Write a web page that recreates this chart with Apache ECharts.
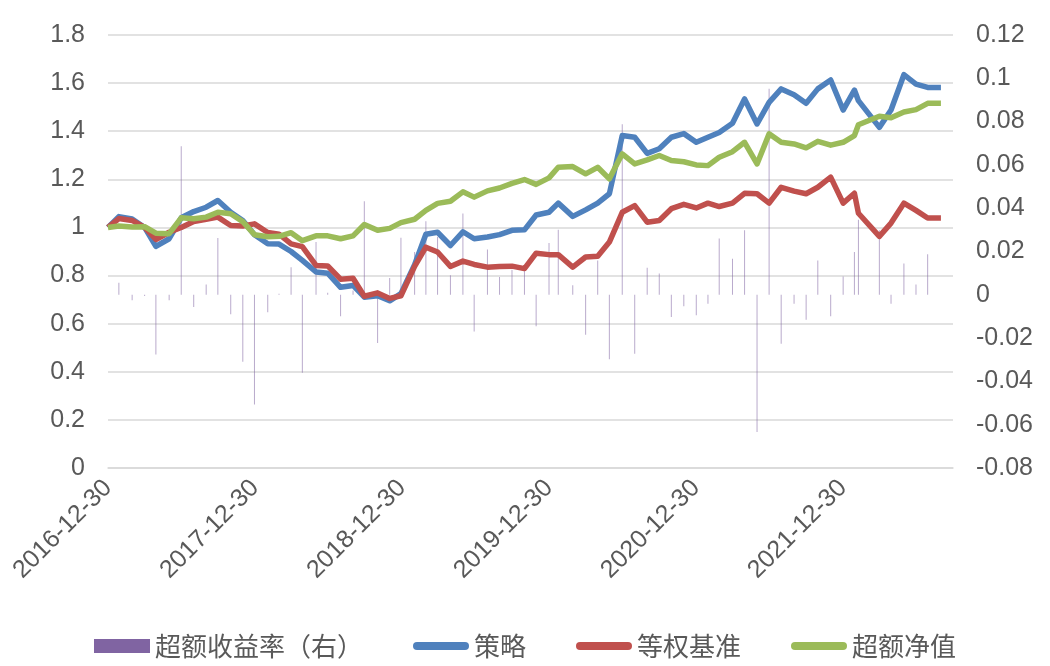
<!DOCTYPE html>
<html>
<head>
<meta charset="utf-8">
<script src="https://cdn.jsdelivr.net/npm/echarts@6/dist/echarts.min.js"></script>
<style>
  html, body { margin: 0; padding: 0; background: #fff; }
  #chart { width: 1050px; height: 666px; }
</style>
</head>
<body>
<div id="chart"></div>
<script>
// rebalance dates (x), one per point
var dates = [
    '2016-12-30', '2017-01-26', '2017-02-28', '2017-03-31', '2017-04-28', '2017-05-31',
    '2017-06-30', '2017-07-31', '2017-08-31', '2017-09-29', '2017-10-31', '2017-11-30',
    '2017-12-29', '2018-01-31', '2018-02-28', '2018-03-30', '2018-04-27', '2018-05-31',
    '2018-06-29', '2018-07-31', '2018-08-31', '2018-09-28', '2018-10-31', '2018-11-30',
    '2018-12-28', '2019-01-31', '2019-02-28', '2019-03-29', '2019-04-30', '2019-05-31',
    '2019-06-28', '2019-07-31', '2019-08-30', '2019-09-30', '2019-10-31', '2019-11-29',
    '2019-12-31', '2020-01-23', '2020-02-28', '2020-03-31', '2020-04-30', '2020-05-29',
    '2020-06-30', '2020-07-31', '2020-08-31', '2020-09-30', '2020-10-30', '2020-11-30',
    '2020-12-31', '2021-01-29', '2021-02-26', '2021-03-31', '2021-04-30', '2021-05-31',
    '2021-06-30', '2021-07-30', '2021-08-31', '2021-09-30', '2021-10-29', '2021-11-30',
    '2021-12-31', '2022-01-28', '2022-02-07', '2022-03-31', '2022-04-29', '2022-05-31',
    '2022-06-30', '2022-07-29', '2022-08-31'
];

// 超额收益率（右）
var excessReturn = [
    0, 0.0056, -0.0025, -0.0005, -0.0276, -0.0025,
    0.0686, -0.0056, 0.0047, 0.0262, -0.009, -0.0309,
    -0.0507, -0.0081, 0.0005, 0.0127, -0.036, 0.0244,
    0.001, -0.0099, 0.002, 0.0432, -0.0223, 0.0078,
    0.0264, 0.0198, 0.034, 0.0267, 0.009, 0.0375,
    -0.0169, 0.0209, 0.0082, 0.0116, 0.0128, -0.0145,
    0.0239, 0.0301, 0.0044, -0.0184, 0.0159, -0.0298,
    0.0788, -0.0272, 0.0125, 0.0098, -0.0102, -0.0053,
    -0.0095, -0.0041, 0.026, 0.0167, 0.0298, -0.0634,
    0.0952, -0.0226, -0.0041, -0.0115, 0.0159, -0.0099,
    0.0085, 0.0198, 0.0347, 0.0298, -0.0041, 0.0144,
    0.0047, 0.0187, 0
];

// 策略
var strategy = [
    1.0, 1.045, 1.035, 1.0, 0.921, 0.953,
    1.04, 1.066, 1.084, 1.112, 1.063, 1.029,
    0.97, 0.932, 0.931, 0.9, 0.863, 0.815,
    0.81, 0.751, 0.759, 0.71, 0.716, 0.695,
    0.725, 0.845, 0.972, 0.98, 0.925, 0.982,
    0.953, 0.96, 0.97, 0.988, 0.99, 1.052,
    1.063, 1.101, 1.046, 1.073, 1.101, 1.14,
    1.382, 1.375, 1.308, 1.327, 1.375, 1.39,
    1.354, 1.375, 1.395, 1.433, 1.534, 1.43,
    1.52, 1.576, 1.552, 1.516, 1.576, 1.613,
    1.488, 1.571, 1.527, 1.416, 1.488, 1.635,
    1.596, 1.582, 1.582
];

// 等权基准
var benchmark = [
    1.0, 1.037, 1.029, 1.0, 0.95, 0.98,
    1.0, 1.025, 1.034, 1.043, 1.008, 1.006,
    1.015, 0.979, 0.972, 0.932, 0.92, 0.842,
    0.84, 0.785, 0.789, 0.714, 0.728, 0.705,
    0.716, 0.838, 0.918, 0.898, 0.838, 0.86,
    0.846, 0.835, 0.838, 0.839, 0.829, 0.893,
    0.887, 0.887, 0.835, 0.877, 0.88, 0.939,
    1.063, 1.091, 1.022, 1.029, 1.078, 1.096,
    1.081, 1.101, 1.087, 1.101, 1.142, 1.14,
    1.101, 1.167, 1.151, 1.14, 1.167, 1.209,
    1.101, 1.142, 1.059, 0.963, 1.018, 1.101,
    1.071, 1.039, 1.039
];

// 超额净值
var excessNav = [
    1.0, 1.006, 1.002, 1.003, 0.976, 0.974,
    1.04, 1.036, 1.043, 1.063, 1.057, 1.024,
    0.97, 0.961, 0.963, 0.978, 0.945, 0.965,
    0.965, 0.953, 0.965, 1.012, 0.988, 0.996,
    1.02, 1.034, 1.071, 1.1, 1.109, 1.148,
    1.126, 1.152, 1.164, 1.183, 1.199, 1.179,
    1.206, 1.25, 1.253, 1.223, 1.25, 1.202,
    1.306, 1.264, 1.281, 1.299, 1.278, 1.273,
    1.26, 1.257, 1.292, 1.315, 1.354, 1.264,
    1.389, 1.354, 1.347, 1.331, 1.358, 1.342,
    1.354, 1.382, 1.427, 1.462, 1.456, 1.48,
    1.49, 1.516, 1.516
];

var xTickLabels = ['2016-12-30', '2017-12-30', '2018-12-30', '2019-12-30', '2020-12-30', '2021-12-30'];
var axisStart = '2016-12-30';
var axisEnd = '2022-09-30';

function renderChart() {
    var dom = document.getElementById('chart');
    var myChart = echarts.init(dom);

    // x is days since the first date
    function dayOf(d) {
        return (Date.parse(d) - Date.parse(axisStart)) / 86400000;
    }
    function pairs(values) {
        return dates.map(function (d, i) { return [dayOf(d), values[i]]; });
    }

    var textColor = '#595959';
    var font = 'Liberation Sans, Arial, sans-serif';
    // thick rounded stroke for the line legend icons
    var lineIcon = 'path://M4,0 L52,0 A4,4 0 0 1 52,8 L4,8 A4,4 0 0 1 4,0 Z';

    var option = {
        animation: false,
        grid: {
            left: 108,
            right: 97,
            top: 35,
            bottom: 198
        },
        legend: {
            left: 'center',
            top: 628,
            itemWidth: 56,
            itemHeight: 14,
            itemGap: 50,
            textStyle: {
                fontFamily: 'Noto Sans CJK SC',
                fontSize: 26,
                color: textColor
            },
            data: [
                { name: '超额收益率（右）', icon: 'rect', itemStyle: { color: '#8064A2', opacity: 1 } },
                { name: '策略', icon: lineIcon, itemStyle: { color: '#4F81BD' } },
                { name: '等权基准', icon: lineIcon, itemStyle: { color: '#C0504D' } },
                { name: '超额净值', icon: lineIcon, itemStyle: { color: '#9BBB59' } }
            ]
        },
        xAxis: {
            type: 'value',
            min: 0,
            max: dayOf(axisEnd),
            interval: 365.25,
            splitLine: { show: false },
            axisTick: { show: false },
            axisLine: { show: true, lineStyle: { color: '#d9d9d9', width: 1.5 } },
            axisLabel: {
                rotate: 45,
                margin: 16,
                fontSize: 25,
                fontFamily: font,
                color: textColor,
                showMaxLabel: false,
                formatter: function (v) {
                    var k = Math.round(v / 365.25);
                    if (Math.abs(v - k * 365.25) > 1) {
                        return '';
                    }
                    return xTickLabels[k] || '';
                }
            }
        },
        yAxis: [
            {
                type: 'value',
                min: 0,
                max: 1.8,
                interval: 0.2,
                axisLine: { show: false },
                axisTick: { show: false },
                splitLine: { lineStyle: { color: '#d9d9d9', width: 1.5 } },
                axisLabel: {
                    margin: 23,
                    fontSize: 25,
                    fontFamily: font,
                    color: textColor
                }
            },
            {
                type: 'value',
                min: -0.08,
                max: 0.12,
                interval: 0.02,
                axisLine: { show: false },
                axisTick: { show: false },
                splitLine: { show: false },
                axisLabel: {
                    margin: 23,
                    fontSize: 25,
                    fontFamily: font,
                    color: textColor
                }
            }
        ],
        series: [
            {
                name: '超额收益率（右）',
                type: 'bar',
                yAxisIndex: 1,
                barWidth: 1,
                itemStyle: { color: 'rgba(128,100,162,0.55)' },
                data: pairs(excessReturn)
            },
            {
                name: '策略',
                type: 'line',
                symbol: 'none',
                itemStyle: { color: '#4F81BD' },
                lineStyle: { width: 5.5, color: '#4F81BD', join: 'round' },
                data: pairs(strategy)
            },
            {
                name: '等权基准',
                type: 'line',
                symbol: 'none',
                itemStyle: { color: '#C0504D' },
                lineStyle: { width: 5.5, color: '#C0504D', join: 'round' },
                data: pairs(benchmark)
            },
            {
                name: '超额净值',
                type: 'line',
                symbol: 'none',
                itemStyle: { color: '#9BBB59' },
                lineStyle: { width: 5.5, color: '#9BBB59', join: 'round' },
                data: pairs(excessNav)
            }
        ]
    };

    if (option && typeof option === 'object') {
        myChart.setOption(option);
    }
}
renderChart();
</script>
</body>
</html>
